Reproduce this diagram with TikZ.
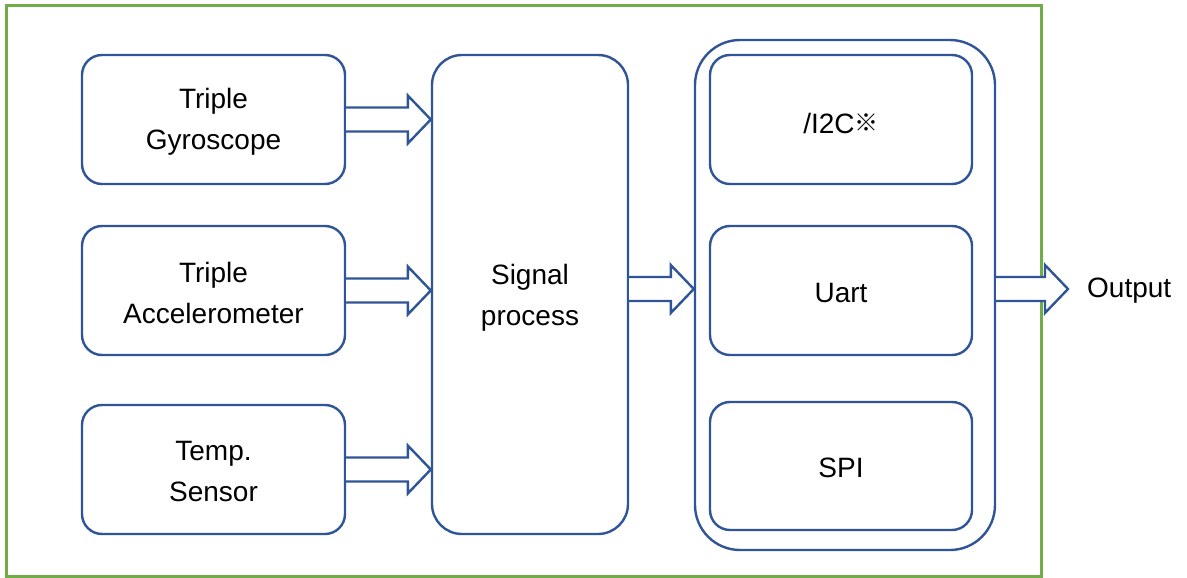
\documentclass[tikz,border=0pt]{standalone}
\usepackage{fontspec}
\setmainfont{Liberation Sans}
\newfontfamily\cjk{Noto Sans CJK SC}
\usetikzlibrary{calc}
\definecolor{bblue}{HTML}{2F5597}
\definecolor{fgreen}{HTML}{70AD47}
\tikzset{
  blk/.style={draw=bblue, line width=2.4pt, rounded corners=20pt, align=center,
    font=\fontsize{28}{41}\selectfont, inner sep=0pt},
  barrow/.style={draw=bblue, line width=2.4pt, fill=white, line join=miter},
  txt/.style={font=\fontsize{28}{41}\selectfont, align=center, inner sep=0pt},
}
\newcommand{\blockarrow}[2]{%
  \draw[barrow] let \p1=(#1), \p2=(#2) in
    (\x1,\y1-12pt) -- (\x2-23pt,\y1-12pt) -- (\x2-23pt,\y1-24pt) -- (\x2,\y1)
    -- (\x2-23pt,\y1+24pt) -- (\x2-23pt,\y1+12pt) -- (\x1,\y1+12pt);}
\begin{document}
\begin{tikzpicture}[x=1pt,y=-1pt]
\useasboundingbox (0,0) rectangle (1187,578);
\draw[fgreen, line width=3pt] (6.5,5.5) rectangle (1041,576);
% left blocks
\node[blk, minimum width=263pt, minimum height=129pt] (g) at (213.5,119.5) {};
\node[blk, minimum width=263pt, minimum height=129pt] (a) at (213.5,290.5) {};
\node[blk, minimum width=263pt, minimum height=129pt] (t) at (213.5,469.5) {};
\node[txt] (gt) at (213.5,122) {Triple\\Gyroscope};
\node[txt] (at) at (213.5,293) {Triple\\Accelerometer};
\node[txt] (tt) at (213.5,472) {Temp.\\Sensor};
% signal
\node[blk, rounded corners=30pt, minimum width=196pt, minimum height=479pt] (sp) at (530,294.5) {};
\node[txt] (spt) at (530,298) {Signal\\process};
% outer
\node[blk, rounded corners=45pt, minimum width=300pt, minimum height=510pt] (o) at (845,295) {};
\node[blk, minimum width=262pt, minimum height=129pt] (i) at (841,119.5) {};
\node[blk, minimum width=262pt, minimum height=129pt] (u) at (841,290.5) {};
\node[blk, minimum width=262pt, minimum height=128pt] (s) at (841,466) {};
\node[txt] (it) at (841,123) {/I2C\raisebox{1.5pt}{\cjk\fontsize{24}{24}\selectfont ※}};
\node[txt] (ut) at (841,293) {Uart};
\node[txt] (st) at (841,468) {SPI};
% output
\node[font=\fontsize{28}{34}\selectfont, anchor=west, inner sep=0pt] (out) at (1087,291) {Output};
\coordinate (otip) at (1068,289);
% arrows
\blockarrow{g.east}{sp.west |- g.east}
\blockarrow{a.east}{sp.west |- a.east}
\blockarrow{t.east}{sp.west |- t.east}
\blockarrow{sp.east |- 0,289}{o.west |- 0,289}
\blockarrow{o.east |- 0,289}{otip}
\end{tikzpicture}
\end{document}
